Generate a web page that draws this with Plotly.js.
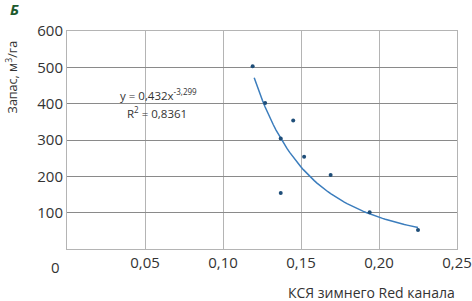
<!DOCTYPE html>
<html>
<head>
<meta charset="utf-8">
<script src="https://cdn.plot.ly/plotly-3.0.1.min.js"></script>
<style>html,body{margin:0;padding:0;background:#fff;}#chart{width:472px;height:301px;}</style>
</head>
<body>
<div id="chart"></div>
<script>
// Observed data points
var xVals = [0.119, 0.127, 0.137, 0.137, 0.145, 0.152, 0.169, 0.194, 0.225];
var yVals = [503, 402, 304, 154, 354, 254, 204, 101, 52];
// Power trendline y = a * x^b (coefficients shown on the chart)
var trendA = 0.432;
var trendB = -3.299;
var trendXStart = 0.12;
var trendXEnd = 0.225;
var xTickVals = [0.05, 0.10, 0.15, 0.20, 0.25];
var xTickText = ["0,05", "0,10", "0,15", "0,20", "0,25"];
var yTickVals = [100, 200, 300, 400, 500, 600];
var yTickText = ["100", "200", "300", "400", "500", "600"];

var tx = [], ty = [];
var steps = 60;
for (var i = 0; i <= steps; i++) {
  var x = trendXStart + (trendXEnd - trendXStart) * i / steps;
  tx.push(x);
  ty.push(trendA * Math.pow(x, trendB));
}

var font = "Open Sans, sans-serif";
var data = [
  {x: tx, y: ty, mode: "lines", type: "scatter",
   line: {color: "#3b7dbd", width: 1.5}, hoverinfo: "skip"},
  {x: xVals, y: yVals, mode: "markers", type: "scatter",
   marker: {color: "#1f4e79", size: 4}}
];
var layout = {
  width: 472, height: 301,
  margin: {l: 67, r: 15, t: 31, b: 52},
  paper_bgcolor: "#ffffff", plot_bgcolor: "#ffffff",
  showlegend: false,
  xaxis: {
    range: [0, 0.25], tickvals: xTickVals, ticktext: xTickText,
    showgrid: true, gridcolor: "#b4b4b4", gridwidth: 1,
    zeroline: false, showline: true, linecolor: "#b4b4b4", linewidth: 1,
    mirror: true, ticks: "", ticklen: 0,
    tickfont: {family: font, size: 15, color: "#333333"}
  },
  yaxis: {
    range: [0, 600], tickvals: yTickVals, ticktext: yTickText,
    showgrid: true, gridcolor: "#8a8a8a", gridwidth: 1,
    zeroline: false, showline: true, linecolor: "#b4b4b4", linewidth: 1,
    mirror: true, ticks: "", ticklen: 0,
    tickfont: {family: font, size: 15, color: "#333333"}
  },
  annotations: [
    {text: "<b><i>Б</i></b>", xref: "paper", yref: "paper", x: -0.152, y: 1.1,
     xanchor: "left", yanchor: "middle", showarrow: false,
     font: {family: font, size: 15, color: "#1e5a2e"}},
    {text: "Запас, м<sup>3</sup>/га", xref: "paper", yref: "paper", x: -0.142, y: 0.79,
     textangle: -90, xanchor: "center", yanchor: "middle", showarrow: false,
     font: {family: font, size: 12.5, color: "#333333"}},
    {text: "0", xref: "paper", yref: "paper", x: -0.03, y: -0.082,
     xanchor: "center", yanchor: "middle", showarrow: false,
     font: {family: font, size: 15, color: "#333333"}},
    {text: "КСЯ зимнего Red канала", xref: "paper", yref: "paper", x: 1.0, y: -0.2,
     xanchor: "right", yanchor: "middle", showarrow: false,
     font: {family: font, size: 14, color: "#333333"}},
    {text: "y = 0,432x<sup>-3,299</sup>", xref: "x", yref: "y", x: 0.0325, y: 426,
     xanchor: "left", yanchor: "middle", showarrow: false,
     font: {family: font, size: 11.5, color: "#333333"}},
    {text: "R<sup>2</sup> = 0,8361", xref: "x", yref: "y", x: 0.037, y: 377,
     xanchor: "left", yanchor: "middle", showarrow: false,
     font: {family: font, size: 11.5, color: "#333333"}}
  ]
};
Plotly.newPlot("chart", data, layout, {staticPlot: true, displayModeBar: false});
</script>
</body>
</html>
